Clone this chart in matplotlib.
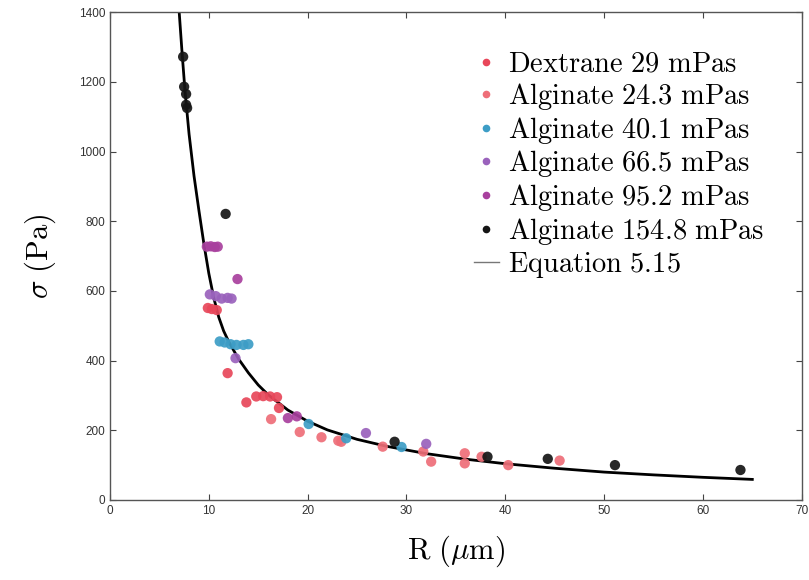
import numpy as np
import matplotlib.pyplot as plt
from matplotlib.lines import Line2D

plt.rcParams['mathtext.fontset'] = 'cm'
plt.rcParams['font.family'] = ['Liberation Sans', 'DejaVu Sans']

# ---- data ----
# Dextrane 29 mPas
dex_R = [9.9, 10.3, 10.8, 11.9, 13.8, 14.8, 15.5, 16.2, 16.9, 17.1]
dex_s = [551, 548, 545, 364, 280, 297, 298, 297, 295, 264]
# Alginate 24.3 mPas
a24_R = [16.3, 19.2, 21.4, 23.1, 23.4, 27.6, 31.7, 32.5, 35.9, 35.9, 37.6, 40.3, 45.5]
a24_s = [232, 195, 180, 170, 167, 153, 139, 110, 134, 105, 124, 100, 113]
# Alginate 40.1 mPas
a40_R = [11.1, 11.6, 12.2, 12.8, 13.5, 14.0, 20.1, 23.9, 29.5]
a40_s = [455, 452, 447, 445, 445, 447, 218, 177, 152]
# Alginate 66.5 mPas
a66_R = [10.1, 10.7, 11.3, 11.9, 12.3, 12.7, 25.9, 32.0]
a66_s = [590, 585, 578, 580, 578, 407, 192, 161]
# Alginate 95.2 mPas
a95_R = [9.8, 10.2, 10.6, 10.9, 12.9, 18.0, 18.9]
a95_s = [727, 728, 726, 727, 634, 235, 240]
# Alginate 154.8 mPas
a154_R = [7.4, 7.5, 7.7, 7.7, 7.8, 11.7, 28.8, 38.2, 44.3, 51.1, 63.8]
a154_s = [1272, 1186, 1165, 1134, 1125, 821, 167, 124, 118, 100, 86]

# Equation 5.15
eq_R = [7.0, 7.3, 7.6, 8.0, 8.5, 9.0, 9.5, 10.0, 10.5, 11.0, 11.5, 12.0, 13.0,
        14.0, 15.0, 16.0, 18.0, 20.0, 22.0, 25.0, 28.0, 32.0, 36.0, 40.0,
        45.0, 50.0, 55.0, 60.0, 65.0]
eq_s = [1400, 1280, 1170, 1050, 930, 830, 735, 650, 580, 525, 485, 455, 405,
        365, 330, 302, 258, 226, 201, 174, 154, 133, 117, 104,
        91, 80, 72, 65, 59]

series = [
    (dex_R, dex_s, '#e8475a', r'$\mathrm{Dextrane\ 29\ mPas}$'),
    (a24_R, a24_s, '#ee6e78', r'$\mathrm{Alginate\ 24.3\ mPas}$'),
    (a40_R, a40_s, '#3d9dc6', r'$\mathrm{Alginate\ 40.1\ mPas}$'),
    (a66_R, a66_s, '#9a62bc', r'$\mathrm{Alginate\ 66.5\ mPas}$'),
    (a95_R, a95_s, '#a8409e', r'$\mathrm{Alginate\ 95.2\ mPas}$'),
    (a154_R, a154_s, '#151515', r'$\mathrm{Alginate\ 154.8\ mPas}$'),
]

fig = plt.figure(figsize=(8.09, 5.8), dpi=100)
ax = fig.add_axes([0.136, 0.138, 0.855, 0.841])

handles = []
for R, s, c, lab in series:
    ax.scatter(R, s, s=55, color=c, edgecolors='none', alpha=0.92, zorder=3)
    handles.append(Line2D([], [], ls='none', marker='o', ms=5.5, color=c,
                          markeredgecolor='none', label=lab))

ax.plot(eq_R, eq_s, color='black', lw=2.0, zorder=2)
handles.append(Line2D([], [], color='#777777', lw=1,
                      label=r'$\mathrm{Equation\ 5.15}$'))

ax.set_xlim(0, 70)
ax.set_ylim(0, 1400)
ax.set_xticks(np.arange(0, 71, 10))
ax.set_yticks(np.arange(0, 1401, 200))
ax.tick_params(direction='in', length=4, width=0.8, top=True, right=True,
               labelsize=8.5, labelcolor='#333333', color='#444444')
for sp in ax.spines.values():
    sp.set_color('#555555')
    sp.set_linewidth(1)

ax.set_xlabel(r'$\mathrm{R}\ (\mu\mathrm{m})$', fontsize=22, labelpad=12)
ax.set_ylabel(r'$\sigma\ \mathrm{(Pa)}$', fontsize=22, labelpad=15)

ax.legend(handles=handles, loc='upper right', bbox_to_anchor=(0.962, 0.942),
          frameon=False, fontsize=20.5, handlelength=0.9, handletextpad=0.3,
          labelspacing=0.1, borderaxespad=0, borderpad=0.4)

fig.savefig('out.png', dpi=100)
